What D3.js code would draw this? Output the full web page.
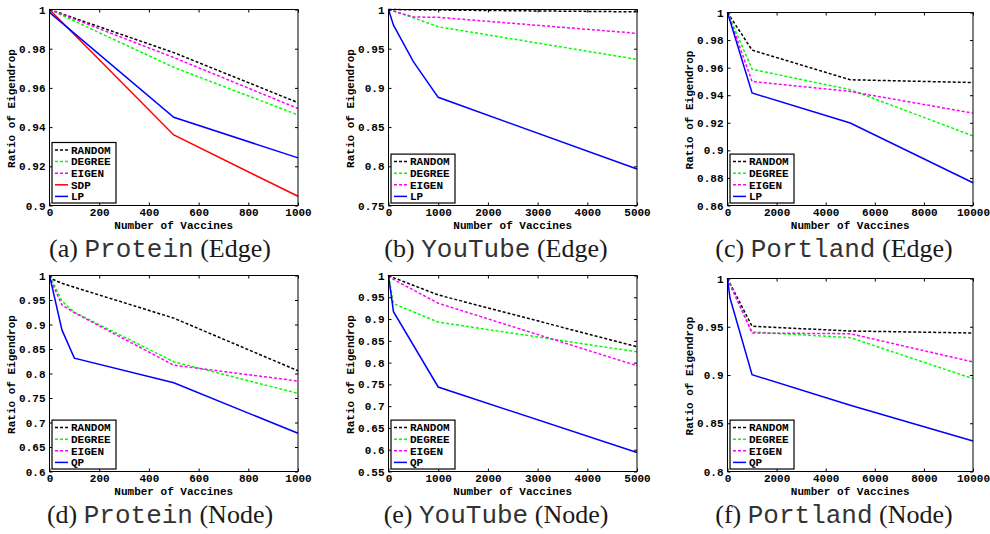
<!DOCTYPE html>
<html><head><meta charset="utf-8">
<script src="https://cdn.jsdelivr.net/npm/d3@7"></script>
<style>
body{margin:0;background:#fff}
svg{display:block}
.tk text{font-family:"Courier New","Liberation Mono",monospace;font-weight:bold;font-size:11px;fill:#000}
.tk line{stroke:#000;stroke-width:1}
</style>
</head><body>
<svg id="c" width="990" height="534"></svg>
<script>
// ---------- data ----------
const edgeLegend = ["RANDOM", "DEGREE", "EIGEN", "SDP", "LP"];
const edgeLegendLP = ["RANDOM", "DEGREE", "EIGEN", "LP"];
const nodeLegend = ["RANDOM", "DEGREE", "EIGEN", "QP"];

// (a) Protein (Edge)
const proteinEdgeX = [0, 500, 1000];
const proteinEdgeRandom = [1.000, 0.978, 0.9525];
const proteinEdgeDegree = [1.000, 0.9705, 0.9462];
const proteinEdgeEigen = [1.000, 0.9755, 0.9495];
const proteinEdgeSDP = [1.000, 0.936, 0.9047];
const proteinEdgeLP = [0.9985, 0.945, 0.9243];
const proteinEdgeXTicks = [0, 200, 400, 600, 800, 1000];
const proteinEdgeYTicks = [0.9, 0.92, 0.94, 0.96, 0.98, 1];

// (b) YouTube (Edge)
const youtubeEdgeX = [0, 100, 500, 1000, 5000];
const youtubeEdgeRandom = [1.000, 1.000, 0.9995, 0.9993, 0.997];
const youtubeEdgeDegree = [1.000, 0.998, 0.9895, 0.978, 0.9364];
const youtubeEdgeEigen = [1.000, 0.998, 0.9905, 0.990, 0.9696];
const youtubeEdgeLP = [1.000, 0.980, 0.9334, 0.888, 0.7965];
const youtubeEdgeXTicks = [0, 1000, 2000, 3000, 4000, 5000];
const youtubeEdgeYTicks = [0.75, 0.8, 0.85, 0.9, 0.95, 1];

// (c) Portland (Edge)
const portlandEdgeX = [0, 1000, 5000, 10000];
const portlandEdgeRandom = [1.000, 0.9727, 0.9512, 0.9492];
const portlandEdgeDegree = [1.000, 0.9588, 0.9440, 0.9105];
const portlandEdgeEigen = [1.000, 0.9500, 0.9427, 0.9270];
const portlandEdgeLP = [1.000, 0.9416, 0.9198, 0.8765];
const portlandEdgeXTicks = [0, 2000, 4000, 6000, 8000, 10000];
const portlandEdgeYTicks = [0.86, 0.88, 0.9, 0.92, 0.94, 0.96, 0.98, 1];

// (d) Protein (Node)
const proteinNodeX = [0, 10, 50, 100, 500, 1000];
const proteinNodeRandom = [1.000, 0.993, 0.984, 0.976, 0.913, 0.8056];
const proteinNodeDegree = [1.000, 0.990, 0.948, 0.925, 0.824, 0.7594];
const proteinNodeEigen = [1.000, 0.985, 0.940, 0.924, 0.817, 0.7846];
const proteinNodeQP = [1.000, 0.978, 0.889, 0.8314, 0.781, 0.678];
const proteinNodeXTicks = [0, 200, 400, 600, 800, 1000];
const proteinNodeYTicks = [0.6, 0.65, 0.7, 0.75, 0.8, 0.85, 0.9, 0.95, 1];

// (e) YouTube (Node)
const youtubeNodeX = [0, 100, 1000, 5000];
const youtubeNodeRandom = [1.000, 0.995, 0.9554, 0.8363];
const youtubeNodeDegree = [1.000, 0.9354, 0.893, 0.8248];
const youtubeNodeEigen = [1.000, 0.991, 0.9363, 0.7928];
const youtubeNodeQP = [1.000, 0.917, 0.744, 0.5935];
const youtubeNodeXTicks = [0, 1000, 2000, 3000, 4000, 5000];
const youtubeNodeYTicks = [0.55, 0.6, 0.65, 0.7, 0.75, 0.8, 0.85, 0.9, 0.95, 1];

// (f) Portland (Node)
const portlandNodeX = [0, 100, 1000, 5000, 10000];
const portlandNodeRandom = [1.000, 0.995, 0.9505, 0.9456, 0.9435];
const portlandNodeDegree = [1.000, 0.994, 0.9446, 0.9387, 0.8962];
const portlandNodeEigen = [1.000, 0.994, 0.9435, 0.9428, 0.9135];
const portlandNodeQP = [1.000, 0.980, 0.9003, 0.8686, 0.8316];
const portlandNodeXTicks = [0, 2000, 4000, 6000, 8000, 10000];
const portlandNodeYTicks = [0.8, 0.85, 0.9, 0.95, 1];

const captionLetters = ["(a)", "(b)", "(c)", "(d)", "(e)", "(f)"];
const captionNames = ["Protein", "YouTube", "Portland", "Protein", "YouTube", "Portland"];
const captionKinds = ["(Edge)", "(Edge)", "(Edge)", "(Node)", "(Node)", "(Node)"];
const xLabel = "Number of Vaccines";
const yLabel = "Ratio of Eigendrop";

// ---------- styles ----------
const seriesStyle = {
  RANDOM: {color: "#000000", dash: "3,2"},
  DEGREE: {color: "#00ff00", dash: "3,2"},
  EIGEN:  {color: "#ff00ff", dash: "3,2"},
  SDP:    {color: "#ff0000", dash: null},
  LP:     {color: "#0000ff", dash: null},
  QP:     {color: "#0000ff", dash: null}
};

const panels = [
  {x: proteinEdgeX, names: edgeLegend, ys: [proteinEdgeRandom, proteinEdgeDegree, proteinEdgeEigen, proteinEdgeSDP, proteinEdgeLP],
   xd: [0, 1000], yd: [0.9, 1], xt: proteinEdgeXTicks, yt: proteinEdgeYTicks,
   box: {l: 49.5, r: 298, t: 9.5, b: 205.5}, cx: 160, cy: 257},
  {x: youtubeEdgeX, names: edgeLegendLP, ys: [youtubeEdgeRandom, youtubeEdgeDegree, youtubeEdgeEigen, youtubeEdgeLP],
   xd: [0, 5000], yd: [0.75, 1], xt: youtubeEdgeXTicks, yt: youtubeEdgeYTicks,
   box: {l: 388.5, r: 637, t: 9.5, b: 205.5}, cx: 496, cy: 257},
  {x: portlandEdgeX, names: edgeLegendLP, ys: [portlandEdgeRandom, portlandEdgeDegree, portlandEdgeEigen, portlandEdgeLP],
   xd: [0, 10000], yd: [0.86, 1], xt: portlandEdgeXTicks, yt: portlandEdgeYTicks,
   box: {l: 727.5, r: 973, t: 12.5, b: 205.5}, cx: 834, cy: 257},
  {x: proteinNodeX, names: nodeLegend, ys: [proteinNodeRandom, proteinNodeDegree, proteinNodeEigen, proteinNodeQP],
   xd: [0, 1000], yd: [0.6, 1], xt: proteinNodeXTicks, yt: proteinNodeYTicks,
   box: {l: 49.5, r: 298, t: 275.5, b: 471.5}, cx: 160, cy: 523},
  {x: youtubeNodeX, names: nodeLegend, ys: [youtubeNodeRandom, youtubeNodeDegree, youtubeNodeEigen, youtubeNodeQP],
   xd: [0, 5000], yd: [0.55, 1], xt: youtubeNodeXTicks, yt: youtubeNodeYTicks,
   box: {l: 388.5, r: 637, t: 275.5, b: 471.5}, cx: 496, cy: 523},
  {x: portlandNodeX, names: nodeLegend, ys: [portlandNodeRandom, portlandNodeDegree, portlandNodeEigen, portlandNodeQP],
   xd: [0, 10000], yd: [0.8, 1], xt: portlandNodeXTicks, yt: portlandNodeYTicks,
   box: {l: 727.5, r: 973, t: 278.5, b: 471.5}, cx: 834, cy: 523}
];

const svg = d3.select("#c");
const mono = '"Courier New","Liberation Mono",monospace';
const serif = '"Times New Roman","Liberation Serif",serif';

panels.forEach((p, i) => {
  const b = p.box;
  const x = d3.scaleLinear().domain(p.xd).range([b.l, b.r]);
  const y = d3.scaleLinear().domain(p.yd).range([b.b, b.t]);
  const g = svg.append("g");

  g.append("rect").attr("x", b.l).attr("y", b.t).attr("width", b.r - b.l).attr("height", b.b - b.t)
    .attr("fill", "#fff");

  // lines
  const line = d3.line().x(d => x(d[0])).y(d => y(d[1]));
  p.names.forEach((name, k) => {
    const st = seriesStyle[name];
    const pts = p.x.map((xv, j) => [xv, p.ys[k][j]]);
    g.append("path").datum(pts).attr("d", line)
      .attr("fill", "none").attr("stroke", st.color).attr("stroke-width", 1.5)
      .attr("stroke-dasharray", st.dash);
  });

  // axes (inward ticks)
  g.append("g").attr("class", "tk").attr("transform", `translate(0,${b.b})`)
    .call(d3.axisBottom(x).tickValues(p.xt).tickSize(-3).tickPadding(3).tickFormat(d => String(d)))
    .call(a => a.select(".domain").remove());
  g.append("g").attr("class", "tk").attr("transform", `translate(0,${b.t})`)
    .call(d3.axisTop(x).tickValues(p.xt).tickSize(-3).tickFormat(""))
    .call(a => a.select(".domain").remove());
  g.append("g").attr("class", "tk").attr("transform", `translate(${b.l},0)`)
    .call(d3.axisLeft(y).tickValues(p.yt).tickSize(-3).tickPadding(4).tickFormat(d => String(d)))
    .call(a => a.select(".domain").remove());
  g.append("g").attr("class", "tk").attr("transform", `translate(${b.r},0)`)
    .call(d3.axisRight(y).tickValues(p.yt).tickSize(-3).tickFormat(""))
    .call(a => a.select(".domain").remove());

  // frame
  g.append("rect").attr("x", b.l).attr("y", b.t).attr("width", b.r - b.l).attr("height", b.b - b.t)
    .attr("fill", "none").attr("stroke", "#000").attr("stroke-width", 1);

  // axis labels
  g.append("text").attr("x", (b.l + b.r) / 2).attr("y", b.b + 23)
    .attr("text-anchor", "middle").attr("font-family", mono).attr("font-weight", "bold")
    .attr("font-size", 11).text(xLabel);
  g.append("text").attr("transform", `translate(${b.l - 35},${(b.t + b.b) / 2 + 1}) rotate(-90)`)
    .attr("text-anchor", "middle").attr("font-family", mono).attr("font-weight", "bold")
    .attr("font-size", 11).text(yLabel);

  // legend
  const n = p.names.length, rowH = 11.6;
  const lh = n * rowH + 2.5, lw = 64;
  const lx = b.l + 2.5, ly = b.b - 2.5 - lh;
  const lg = g.append("g");
  lg.append("rect").attr("x", lx).attr("y", ly).attr("width", lw).attr("height", lh)
    .attr("fill", "#fff").attr("stroke", "#000").attr("stroke-width", 1.2);
  p.names.forEach((name, k) => {
    const st = seriesStyle[name];
    const cyy = ly + 7.5 + k * rowH;
    lg.append("line").attr("x1", lx + 3).attr("x2", lx + 16).attr("y1", cyy).attr("y2", cyy)
      .attr("stroke", st.color).attr("stroke-width", 1.5).attr("stroke-dasharray", st.dash);
    lg.append("text").attr("x", lx + 19).attr("y", cyy).attr("dy", "0.35em")
      .attr("font-family", mono).attr("font-weight", "bold").attr("font-size", 11).text(name);
  });

  // caption
  const cap = svg.append("text").attr("x", p.cx).attr("y", p.cy).attr("text-anchor", "middle")
    .attr("font-size", 26).attr("fill", "#1a1a1a");
  cap.append("tspan").attr("font-family", serif).text(captionLetters[i] + " ");
  cap.append("tspan").attr("font-family", mono).attr("fill", "#333").text(captionNames[i]);
  cap.append("tspan").attr("font-family", serif).text(" " + captionKinds[i]);
});
</script>
</body></html>
